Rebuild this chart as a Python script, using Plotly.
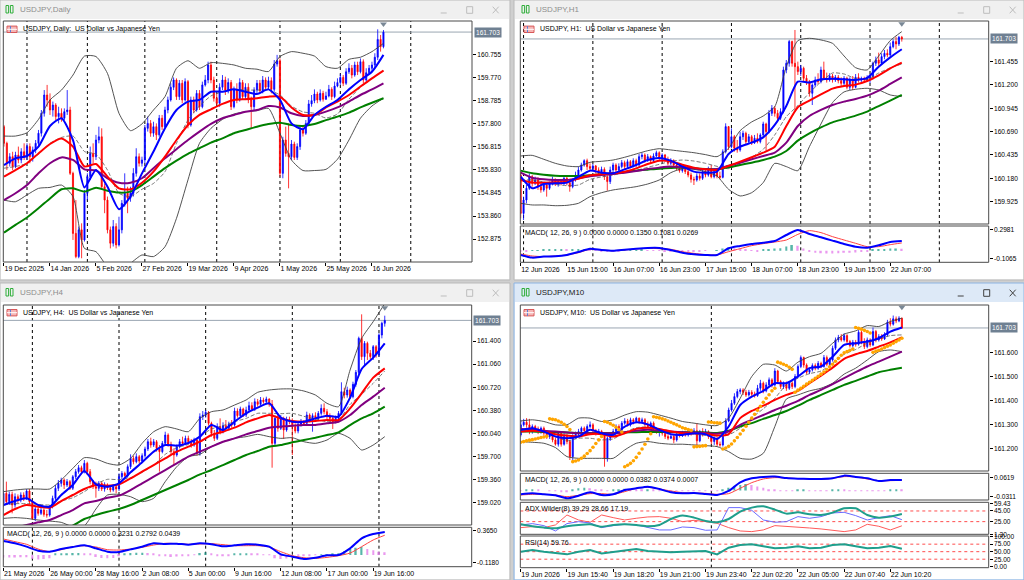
import plotly.graph_objects as go

W, H = 1024, 580
FONT = "Liberation Sans"

bars = list(range(133))
ma_bars = list(range(0, 133, 4))
hist_bars = list(range(0, 133, 2))
date_bars = [0, 16, 32, 48, 64, 80, 96, 112, 128]
bid = 161.703

# ---------------- Daily ----------------
d_dates = ["19 Dec 2025", "14 Jan 2026", "5 Feb 2026", "27 Feb 2026", "19 Mar 2026",
           "9 Apr 2026", "1 May 2026", "25 May 2026", "16 Jun 2026"]
d_seps = [8, 29, 49, 74, 96, 117, 141.5]
d_yticks = [160.755, 159.770, 158.785, 157.800, 156.815, 155.830, 154.845, 153.860, 152.875]

d_open = [157.67, 156.96, 156.11, 156.39, 155.97, 156.46, 156.25, 156.60, 156.39, 156.82,
          156.39, 156.68, 156.96, 157.39, 158.24, 159.02, 158.81, 158.38, 158.59, 158.10,
          158.24, 158.03, 158.31, 158.38, 155.68, 153.12, 152.13, 153.27, 152.84, 154.83,
          155.54, 156.53, 156.39, 157.10, 157.24, 155.11, 154.54, 153.27, 152.70, 153.41,
          152.63, 153.27, 154.40, 154.83, 154.62, 154.83, 155.68, 156.39, 156.11, 156.25,
          157.60, 157.81, 157.39, 157.67, 157.32, 158.03, 157.67, 158.38, 158.81, 159.35,
          159.66, 158.95, 159.52, 158.81, 159.59, 157.74, 158.81, 158.38, 159.09, 158.52,
          159.45, 159.66, 160.30, 159.66, 158.88, 158.67, 159.35, 159.66, 159.23, 159.55,
          158.52, 159.23, 158.81, 159.55, 158.95, 159.35, 158.81, 158.52, 159.23, 159.52,
          159.20, 159.66, 159.35, 159.63, 159.26, 160.34, 160.48, 155.68, 157.10, 156.53,
          156.39, 156.93, 156.36, 156.82, 157.53, 157.39, 157.81, 158.64, 158.78, 159.06,
          158.81, 159.09, 158.84, 158.98, 159.26, 158.95, 159.40, 159.55, 159.77, 159.52,
          160.01, 160.16, 159.87, 160.30, 160.01, 160.44, 159.66, 159.97, 160.16, 160.30,
          160.63, 161.39, 161.08]
d_high = [157.74, 157.03, 156.54, 156.60, 156.60, 156.82, 156.75, 156.96, 156.96, 156.96,
          156.82, 157.10, 157.53, 158.38, 159.23, 159.45, 159.09, 158.74, 158.67, 158.52,
          158.45, 158.45, 159.23, 158.52, 155.75, 154.54, 153.41, 153.55, 154.97, 155.68,
          156.82, 156.96, 157.32, 157.67, 157.60, 155.25, 154.69, 153.41, 153.69, 153.55,
          153.83, 154.54, 155.68, 155.11, 155.11, 155.90, 156.75, 156.53, 156.39, 157.74,
          158.10, 157.95, 157.88, 157.81, 158.17, 158.17, 158.52, 158.95, 159.52, 159.77,
          159.73, 159.66, 159.66, 159.73, 159.66, 158.95, 158.95, 159.23, 159.23, 159.59,
          159.87, 160.44, 160.44, 159.80, 159.09, 159.52, 159.87, 159.80, 159.73, 159.66,
          159.38, 159.52, 159.73, 159.66, 159.52, 159.52, 158.95, 159.35, 159.66, 159.66,
          159.83, 159.77, 159.80, 159.77, 160.51, 160.73, 160.58, 157.24, 157.67, 157.81,
          157.10, 157.03, 156.96, 157.67, 157.74, 157.95, 158.81, 159.02, 159.26, 159.16,
          159.26, 159.20, 159.16, 159.45, 159.35, 159.59, 159.73, 159.92, 159.87, 160.16,
          160.37, 160.30, 160.44, 160.44, 160.58, 160.54, 160.16, 160.30, 160.44, 160.80,
          161.82, 161.58, 161.79]
d_low = [156.82, 155.82, 155.97, 155.82, 155.90, 156.11, 156.11, 156.25, 156.25, 156.11,
         156.18, 156.54, 156.82, 157.25, 158.10, 158.52, 158.17, 158.10, 157.95, 157.81,
         157.88, 157.95, 158.17, 155.61, 152.84, 152.06, 152.06, 152.06, 152.77, 154.54,
         155.40, 156.11, 156.25, 156.96, 155.04, 153.98, 153.12, 152.48, 152.56, 152.48,
         152.56, 153.12, 154.26, 153.98, 154.47, 154.69, 155.54, 155.97, 155.97, 156.11,
         157.46, 157.24, 157.24, 157.10, 157.24, 157.53, 157.60, 158.24, 158.74, 159.23,
         158.81, 158.81, 158.67, 158.74, 157.60, 157.67, 158.24, 158.31, 158.38, 158.45,
         159.38, 159.52, 159.52, 158.74, 158.60, 158.52, 159.23, 159.02, 159.09, 158.38,
         158.45, 158.67, 158.74, 158.81, 158.81, 158.67, 157.60, 158.38, 159.09, 159.09,
         159.09, 159.23, 159.23, 159.09, 159.16, 160.23, 155.54, 155.47, 156.39, 155.04,
         156.25, 156.25, 156.25, 156.68, 157.25, 157.32, 157.74, 158.52, 158.67, 158.67,
         158.74, 158.74, 158.81, 158.92, 158.81, 158.88, 159.35, 159.45, 159.40, 159.45,
         159.92, 159.73, 159.80, 159.87, 159.94, 159.52, 159.59, 159.92, 160.01, 160.16,
         160.51, 160.87, 161.01]
d_close = [156.96, 156.11, 156.39, 155.97, 156.46, 156.25, 156.60, 156.39, 156.82, 156.39,
           156.68, 156.96, 157.39, 158.24, 159.02, 158.81, 158.38, 158.59, 158.10, 158.24,
           158.03, 158.31, 158.38, 155.68, 153.12, 152.13, 153.27, 152.84, 154.83, 155.54,
           156.53, 156.39, 157.10, 157.24, 155.11, 154.54, 153.27, 152.70, 153.41, 152.63,
           153.27, 154.40, 154.83, 154.62, 154.83, 155.68, 156.39, 156.11, 156.25, 157.60,
           157.81, 157.39, 157.67, 157.32, 158.03, 157.67, 158.38, 158.81, 159.35, 159.66,
           158.95, 159.52, 158.81, 159.59, 157.74, 158.81, 158.38, 159.09, 158.52, 159.45,
           159.66, 160.30, 159.66, 158.88, 158.67, 159.35, 159.66, 159.23, 159.55, 158.52,
           159.23, 158.81, 159.55, 158.95, 159.35, 158.81, 158.52, 159.23, 159.52, 159.20,
           159.66, 159.35, 159.63, 159.26, 160.34, 160.48, 155.68, 157.10, 156.53, 156.39,
           156.93, 156.36, 156.82, 157.53, 157.39, 157.81, 158.64, 158.78, 159.06, 158.81,
           159.09, 158.84, 158.98, 159.26, 158.95, 159.40, 159.55, 159.77, 159.52, 160.01,
           160.16, 159.87, 160.30, 160.01, 160.44, 159.66, 159.97, 160.16, 160.30, 160.63,
           161.39, 161.08, 161.70]

d_blue = [156.03, 156.32, 156.42, 156.82, 157.70, 158.03, 157.10, 155.08, 155.82, 155.11,
          154.15, 154.69, 155.68, 156.61, 157.60, 158.38, 158.74, 158.81, 159.16, 159.16,
          159.26, 159.16, 159.06, 159.26, 158.81, 157.81, 157.56, 158.17, 158.52, 158.81,
          159.26, 159.66, 160.01, 160.73]
d_red = [155.54, 155.82, 156.11, 156.53, 156.93, 157.17, 156.82, 155.97, 156.08, 155.54,
         155.04, 155.00, 155.28, 155.75, 156.39, 157.10, 157.74, 158.17, 158.41, 158.64,
         158.81, 158.84, 158.88, 158.95, 158.95, 158.49, 158.17, 158.17, 158.49, 158.74,
         159.02, 159.38, 159.73, 160.06]
d_purple = [154.54, 154.83, 155.18, 155.68, 156.11, 156.36, 156.25, 155.85, 155.80, 155.47,
            155.28, 155.28, 155.47, 155.90, 156.32, 156.71, 157.10, 157.46, 157.79, 158.03,
            158.17, 158.31, 158.38, 158.55, 158.49, 158.24, 158.13, 158.17, 158.31, 158.49,
            158.74, 159.02, 159.26, 159.52]
d_green = [153.15, 153.48, 153.80, 154.19, 154.61, 155.00, 155.04, 154.90, 155.07, 154.94,
           154.86, 154.90, 155.18, 155.54, 155.90, 156.22, 156.51, 156.75, 156.99, 157.17,
           157.39, 157.53, 157.67, 157.78, 157.84, 157.74, 157.70, 157.78, 157.95, 158.10,
           158.27, 158.49, 158.69, 158.88]
d_bb_up = [157.27, 157.27, 157.41, 157.98, 158.81, 159.23, 159.87, 160.68, 160.66, 159.94,
           158.24, 157.50, 157.79, 158.38, 158.95, 160.16, 160.48, 160.16, 160.40, 160.37,
           160.30, 160.16, 160.12, 160.02, 160.66, 160.87, 160.80, 160.68, 160.23, 160.16,
           160.54, 160.63, 160.87, 161.22]
d_bb_mid = [155.90, 155.97, 156.11, 156.50, 156.96, 157.21, 157.27, 156.61, 156.50, 155.82,
            154.83, 154.69, 155.00, 155.25, 155.75, 156.96, 157.95, 158.55, 158.98, 159.16,
            159.26, 159.23, 159.23, 159.23, 159.02, 158.55, 158.30, 158.24, 158.04, 158.21,
            158.84, 159.35, 159.72, 160.06]
d_bb_low = [154.54, 154.47, 154.76, 155.04, 155.08, 155.18, 154.69, 152.48, 152.34, 151.70,
            151.42, 151.84, 152.20, 152.13, 152.55, 153.76, 155.40, 156.96, 157.60, 157.98,
            158.21, 158.31, 158.35, 158.45, 157.39, 156.25, 155.80, 155.80, 155.85, 156.28,
            157.10, 158.03, 158.55, 158.88]

# ---------------- H1 ----------------
h1_dates = ["12 Jun 2026", "15 Jun 15:00", "16 Jun 07:00", "16 Jun 23:00", "17 Jun 15:00",
            "18 Jun 07:00", "18 Jun 23:00", "19 Jun 15:00", "22 Jun 07:00"]
h1_seps = [1, 25, 49, 73, 97, 121, 145]
h1_yticks = [161.455, 161.200, 160.945, 160.690, 160.435, 160.180, 159.925]
h1_macd_ticks = [0.2981, -0.1065]

h1_open = [160.216, 159.797, 159.943, 160.071, 160.198, 160.125, 160.162, 160.089, 160.053, 160.107,
           160.071, 160.125, 160.162, 160.118, 160.144, 160.125, 160.180, 160.133, 160.089, 160.162,
           160.216, 160.271, 160.326, 160.373, 160.308, 160.289, 160.315, 160.271, 160.235, 160.278,
           160.198, 160.144, 160.271, 160.326, 160.271, 160.308, 160.351, 160.308, 160.362, 160.315,
           160.373, 160.326, 160.417, 160.435, 160.380, 160.417, 160.373, 160.424, 160.460, 160.399,
           160.435, 160.388, 160.344, 160.373, 160.326, 160.289, 160.264, 160.308, 160.253, 160.216,
           160.169, 160.162, 160.205, 160.180, 160.253, 160.216, 160.278, 160.198, 160.253, 160.205,
           160.191, 160.471, 160.745, 160.526, 160.635, 160.508, 160.490, 160.635, 160.672, 160.581,
           160.635, 160.570, 160.617, 160.581, 160.654, 160.774, 160.690, 160.890, 160.945, 160.890,
           160.836, 160.909, 161.364, 161.437, 161.674, 161.437, 161.400, 161.346, 161.382, 161.273,
           161.236, 161.109, 161.200, 161.255, 161.236, 161.364, 161.273, 161.255, 161.298, 161.255,
           161.284, 161.247, 161.218, 161.273, 161.175, 161.255, 161.175, 161.284, 161.255, 161.269,
           161.255, 161.284, 161.291, 161.437, 161.473, 161.437, 161.510, 161.546, 161.528, 161.619,
           161.674, 161.648, 161.721]
h1_high = [160.253, 159.980, 160.107, 160.235, 160.216, 160.198, 160.191, 160.125, 160.144, 160.125,
           160.144, 160.198, 160.180, 160.169, 160.169, 160.205, 160.198, 160.162, 160.180, 160.253,
           160.308, 160.351, 160.388, 160.395, 160.344, 160.337, 160.326, 160.300, 160.308, 160.300,
           160.235, 160.308, 160.351, 160.344, 160.344, 160.380, 160.373, 160.388, 160.380, 160.399,
           160.395, 160.446, 160.460, 160.453, 160.446, 160.431, 160.453, 160.482, 160.475, 160.453,
           160.446, 160.417, 160.399, 160.388, 160.344, 160.315, 160.326, 160.326, 160.278, 160.242,
           160.198, 160.235, 160.235, 160.278, 160.289, 160.308, 160.326, 160.289, 160.278, 160.253,
           160.497, 160.781, 160.752, 160.726, 160.654, 160.599, 160.690, 160.701, 160.690, 160.665,
           160.654, 160.654, 160.672, 160.672, 160.799, 160.788, 160.927, 160.981, 160.970, 160.927,
           160.945, 161.400, 161.473, 161.692, 161.685, 161.801, 161.455, 161.419, 161.400, 161.309,
           161.255, 161.218, 161.291, 161.328, 161.400, 161.455, 161.335, 161.328, 161.320, 161.309,
           161.309, 161.284, 161.298, 161.291, 161.284, 161.298, 161.320, 161.328, 161.291, 161.291,
           161.306, 161.320, 161.455, 161.510, 161.553, 161.546, 161.583, 161.590, 161.663, 161.699,
           161.728, 161.736, 161.736]
h1_low = [159.743, 159.725, 159.907, 160.053, 160.089, 160.107, 160.053, 160.023, 160.034, 159.980,
          160.053, 160.103, 160.096, 160.089, 160.103, 160.107, 160.103, 160.034, 160.071, 160.144,
          160.198, 160.253, 160.308, 160.271, 160.264, 160.264, 160.235, 160.205, 160.216, 160.162,
          160.045, 160.118, 160.242, 160.235, 160.242, 160.289, 160.278, 160.289, 160.289, 160.300,
          160.300, 160.308, 160.388, 160.351, 160.359, 160.344, 160.351, 160.410, 160.373, 160.380,
          160.362, 160.322, 160.326, 160.300, 160.264, 160.242, 160.242, 160.227, 160.191, 160.133,
          160.107, 160.144, 160.155, 160.162, 160.191, 160.198, 160.180, 160.180, 160.180, 160.169,
          160.180, 160.453, 160.490, 160.508, 160.471, 160.460, 160.471, 160.599, 160.555, 160.555,
          160.544, 160.555, 160.562, 160.562, 160.628, 160.482, 160.672, 160.861, 160.854, 160.810,
          160.818, 160.890, 161.328, 161.400, 161.400, 160.927, 161.309, 161.298, 161.236, 161.200,
          161.073, 160.981, 161.175, 161.211, 161.218, 161.255, 161.226, 161.236, 161.226, 161.233,
          161.218, 161.189, 161.196, 161.153, 161.145, 161.145, 161.164, 161.226, 161.233, 161.226,
          161.233, 161.218, 161.262, 161.408, 161.408, 161.419, 161.481, 161.502, 161.510, 161.601,
          161.590, 161.626, 161.674]
h1_close = [159.797, 159.943, 160.071, 160.198, 160.125, 160.162, 160.089, 160.053, 160.107, 160.071,
            160.125, 160.162, 160.118, 160.144, 160.125, 160.180, 160.133, 160.089, 160.162, 160.216,
            160.271, 160.326, 160.373, 160.308, 160.289, 160.315, 160.271, 160.235, 160.278, 160.198,
            160.144, 160.271, 160.326, 160.271, 160.308, 160.351, 160.308, 160.362, 160.315, 160.373,
            160.326, 160.417, 160.435, 160.380, 160.417, 160.373, 160.424, 160.460, 160.399, 160.435,
            160.388, 160.344, 160.373, 160.326, 160.289, 160.264, 160.308, 160.253, 160.216, 160.169,
            160.162, 160.205, 160.180, 160.253, 160.216, 160.278, 160.198, 160.253, 160.205, 160.191,
            160.471, 160.745, 160.526, 160.635, 160.508, 160.490, 160.635, 160.672, 160.581, 160.635,
            160.570, 160.617, 160.581, 160.654, 160.774, 160.690, 160.890, 160.945, 160.890, 160.836,
            160.909, 161.364, 161.437, 161.674, 161.437, 161.400, 161.346, 161.382, 161.273, 161.236,
            161.109, 161.200, 161.255, 161.236, 161.364, 161.273, 161.255, 161.298, 161.255, 161.284,
            161.247, 161.218, 161.273, 161.175, 161.255, 161.175, 161.284, 161.255, 161.269, 161.255,
            161.284, 161.291, 161.437, 161.473, 161.437, 161.510, 161.546, 161.528, 161.619, 161.674,
            161.648, 161.721, 161.703]

h1_blue = [160.198, 160.071, 160.118, 160.125, 160.133, 160.198, 160.264, 160.242, 160.235, 160.278,
           160.326, 160.380, 160.402, 160.373, 160.308, 160.253, 160.242, 160.253, 160.446, 160.526,
           160.570, 160.628, 160.763, 160.970, 161.236, 161.226, 161.262, 161.269, 161.262, 161.255,
           161.277, 161.400, 161.502, 161.590]
h1_red = [160.162, 160.133, 160.133, 160.136, 160.144, 160.176, 160.213, 160.224, 160.235, 160.253,
          160.289, 160.337, 160.373, 160.366, 160.329, 160.297, 160.278, 160.271, 160.315, 160.362,
          160.410, 160.460, 160.526, 160.752, 160.956, 161.029, 161.098, 161.160, 161.189, 161.204,
          161.244, 161.306, 161.382, 161.444]
h1_purple = [160.242, 160.187, 160.169, 160.162, 160.162, 160.180, 160.202, 160.216, 160.227, 160.242,
             160.260, 160.282, 160.297, 160.308, 160.300, 160.289, 160.278, 160.282, 160.318, 160.351,
             160.388, 160.424, 160.460, 160.570, 160.752, 160.861, 160.927, 160.981, 161.018, 161.047,
             161.083, 161.138, 161.211, 161.284]
h1_green = [160.264, 160.235, 160.220, 160.209, 160.205, 160.205, 160.213, 160.224, 160.235, 160.249,
            160.264, 160.275, 160.286, 160.293, 160.297, 160.289, 160.282, 160.278, 160.300, 160.326,
            160.351, 160.380, 160.417, 160.479, 160.592, 160.672, 160.737, 160.792, 160.828, 160.865,
            160.909, 160.970, 161.029, 161.091]
h1_bb_up = [160.424, 160.431, 160.388, 160.344, 160.315, 160.308, 160.355, 160.366, 160.380, 160.410,
            160.446, 160.482, 160.504, 160.490, 160.475, 160.460, 160.439, 160.417, 160.508, 160.701,
            160.796, 160.861, 160.963, 161.400, 161.685, 161.710, 161.692, 161.655, 161.517, 161.389,
            161.364, 161.517, 161.685, 161.783]
h1_bb_mid = [160.162, 160.162, 160.140, 160.114, 160.100, 160.107, 160.169, 160.195, 160.216, 160.242,
             160.267, 160.300, 160.333, 160.366, 160.380, 160.369, 160.344, 160.311, 160.286, 160.344,
             160.410, 160.497, 160.654, 160.854, 160.974, 161.116, 161.233, 161.331, 161.320, 161.269,
             161.262, 161.331, 161.386, 161.430]
h1_bb_low = [159.907, 159.889, 159.889, 159.881, 159.885, 159.907, 159.980, 160.023, 160.053, 160.071,
             160.089, 160.118, 160.162, 160.242, 160.286, 160.278, 160.253, 160.205, 160.060, 159.987,
             160.023, 160.133, 160.344, 160.308, 160.264, 160.526, 160.774, 161.007, 161.124, 161.153,
             161.164, 161.145, 161.091, 161.073]

h1_macd = [-0.060, -0.097, -0.083, -0.079, -0.060, -0.018, 0.028, 0.010, 0.000, 0.014,
           0.028, 0.038, 0.038, 0.010, -0.028, -0.051, -0.060, -0.060, 0.033, 0.066,
           0.094, 0.112, 0.135, 0.219, 0.289, 0.233, 0.187, 0.140, 0.094, 0.056,
           0.042, 0.075, 0.121, 0.135]
h1_signal = [-0.046, -0.074, -0.083, -0.074, -0.060, -0.028, 0.019, 0.010, 0.000, 0.010,
             0.024, 0.033, 0.028, 0.019, -0.014, -0.037, -0.055, -0.060, -0.014, 0.028,
             0.070, 0.098, 0.121, 0.149, 0.228, 0.280, 0.252, 0.196, 0.149, 0.103,
             0.056, 0.056, 0.084, 0.108]
h1_hist = [-0.01, -0.005, 0.005, 0.008, 0.01, 0.01, 0.012, 0.012, 0.01, 0.012,
           0.015, 0.018, 0.012, 0.005, -0.008, -0.012, -0.01, -0.006, 0.004, 0.006,
           0.008, 0.01, 0.008, 0.004, -0.004, -0.01, -0.015, -0.018, -0.016, -0.012,
           -0.008, -0.005, -0.003, 0.0, 0.005, 0.03, 0.04, 0.035, 0.025, 0.015,
           0.005, -0.005, 0.01, 0.02, 0.03, 0.035, 0.06, 0.08, 0.07, 0.03,
           -0.01, -0.03, -0.035, -0.04, -0.038, -0.035, -0.03, -0.028, -0.025, -0.02,
           -0.01, 0.01, 0.02, 0.025, 0.03, 0.03, 0.027]

# ---------------- H4 ----------------
h4_dates = ["21 May 2026", "26 May 00:00", "28 May 16:00", "2 Jun 08:00", "5 Jun 00:00",
            "9 Jun 16:00", "12 Jun 08:00", "17 Jun 00:00", "19 Jun 16:00"]
h4_seps = [10, 40, 70, 100, 130]
h4_yticks = [161.400, 161.060, 160.720, 160.380, 160.040, 159.700, 159.360, 159.020]
h4_macd_ticks = [0.3650, -0.1180]

h4_open = [159.014, 159.161, 159.039, 159.146, 158.990, 159.112, 159.063, 159.137, 159.088, 159.195,
           159.039, 158.793, 158.931, 158.867, 158.916, 158.852, 158.842, 158.965, 159.088, 159.235,
           159.308, 159.357, 159.284, 159.333, 159.235, 159.406, 159.480, 159.538, 159.480, 159.602,
           159.480, 159.333, 159.259, 159.235, 159.308, 159.225, 159.284, 159.244, 159.210, 159.259,
           159.225, 159.406, 159.455, 159.421, 159.553, 159.675, 159.626, 159.700, 159.636, 159.715,
           159.813, 159.920, 159.871, 159.920, 159.822, 159.774, 159.896, 160.018, 159.881, 159.774,
           159.725, 159.847, 159.920, 159.896, 159.969, 159.920, 159.871, 159.945, 159.749, 160.288,
           160.312, 160.352, 160.190, 160.043, 159.969, 160.141, 160.067, 160.156, 160.116, 160.175,
           160.165, 160.371, 160.303, 160.401, 160.312, 160.386, 160.450, 160.401, 160.508, 160.469,
           160.533, 160.508, 160.548, 160.469, 159.896, 160.263, 160.116, 160.263, 160.092, 160.239,
           160.214, 160.141, 160.077, 160.175, 160.205, 160.190, 160.312, 160.239, 160.303, 160.263,
           160.337, 160.410, 160.361, 160.288, 160.263, 160.214, 160.263, 160.337, 160.655, 160.606,
           160.680, 160.582, 160.763, 160.939, 161.439, 161.170, 161.366, 161.219, 161.170, 161.317,
           161.194, 161.488, 161.660]
h4_high = [159.210, 159.333, 159.186, 159.186, 159.161, 159.146, 159.176, 159.176, 159.225, 159.225,
           159.063, 158.965, 158.951, 158.951, 158.941, 158.916, 158.990, 159.127, 159.284, 159.357,
           159.391, 159.382, 159.372, 159.357, 159.431, 159.519, 159.577, 159.568, 159.651, 159.626,
           159.519, 159.357, 159.333, 159.342, 159.333, 159.323, 159.308, 159.284, 159.293, 159.284,
           159.455, 159.489, 159.480, 159.587, 159.734, 159.715, 159.749, 159.725, 159.749, 159.847,
           159.960, 159.979, 159.960, 159.945, 159.871, 159.930, 160.067, 160.043, 159.920, 159.822,
           159.881, 159.960, 159.994, 160.009, 160.009, 159.960, 159.979, 159.969, 160.337, 160.371,
           160.386, 160.371, 160.214, 160.092, 160.190, 160.263, 160.205, 160.239, 160.214, 160.239,
           160.420, 160.410, 160.435, 160.420, 160.435, 160.508, 160.499, 160.557, 160.548, 160.577,
           160.567, 160.582, 160.557, 160.533, 160.303, 160.337, 160.312, 160.288, 160.288, 160.288,
           160.263, 160.190, 160.214, 160.254, 160.239, 160.361, 160.337, 160.337, 160.352, 160.371,
           160.469, 160.484, 160.401, 160.337, 160.303, 160.303, 160.371, 160.793, 160.714, 160.729,
           160.704, 160.802, 160.974, 161.464, 161.792, 161.400, 161.390, 161.268, 161.341, 161.341,
           161.513, 161.684, 161.772]
h4_low = [158.965, 158.990, 158.990, 158.867, 158.951, 159.014, 159.029, 159.048, 159.063, 158.999,
          158.769, 158.754, 158.833, 158.842, 158.818, 158.804, 158.818, 158.941, 159.063, 159.195,
          159.259, 159.225, 159.254, 159.210, 159.210, 159.372, 159.450, 159.440, 159.455, 159.431,
          159.293, 159.225, 159.097, 159.195, 159.195, 159.186, 159.210, 159.176, 159.186, 159.161,
          159.195, 159.372, 159.382, 159.391, 159.519, 159.587, 159.602, 159.602, 159.617, 159.685,
          159.783, 159.832, 159.842, 159.774, 159.480, 159.749, 159.871, 159.847, 159.734, 159.577,
          159.700, 159.822, 159.862, 159.871, 159.891, 159.832, 159.847, 159.715, 159.715, 160.239,
          160.273, 160.156, 159.994, 159.930, 159.945, 160.028, 160.043, 160.077, 160.087, 160.126,
          160.141, 160.273, 160.273, 160.283, 160.283, 160.361, 160.371, 160.371, 160.435, 160.450,
          160.479, 160.484, 160.435, 159.538, 159.871, 160.067, 160.092, 159.960, 160.067, 160.175,
          159.725, 160.043, 160.043, 160.141, 160.165, 160.165, 160.205, 160.067, 160.239, 160.239,
          160.303, 160.322, 160.254, 160.224, 160.107, 160.190, 160.205, 160.312, 160.557, 160.567,
          160.548, 160.557, 160.729, 160.910, 161.121, 161.047, 161.121, 161.135, 161.121, 161.155,
          161.170, 161.439, 161.611]
h4_close = [159.161, 159.039, 159.146, 158.990, 159.112, 159.063, 159.137, 159.088, 159.195, 159.039,
            158.793, 158.931, 158.867, 158.916, 158.852, 158.842, 158.965, 159.088, 159.235, 159.308,
            159.357, 159.284, 159.333, 159.235, 159.406, 159.480, 159.538, 159.480, 159.602, 159.480,
            159.333, 159.259, 159.235, 159.308, 159.225, 159.284, 159.244, 159.210, 159.259, 159.225,
            159.406, 159.455, 159.421, 159.553, 159.675, 159.626, 159.700, 159.636, 159.715, 159.813,
            159.920, 159.871, 159.920, 159.822, 159.774, 159.896, 160.018, 159.881, 159.774, 159.725,
            159.847, 159.920, 159.896, 159.969, 159.920, 159.871, 159.945, 159.749, 160.288, 160.312,
            160.352, 160.190, 160.043, 159.969, 160.141, 160.067, 160.156, 160.116, 160.175, 160.165,
            160.371, 160.303, 160.401, 160.312, 160.386, 160.450, 160.401, 160.508, 160.469, 160.533,
            160.508, 160.548, 160.469, 159.896, 160.263, 160.116, 160.263, 160.092, 160.239, 160.214,
            160.141, 160.077, 160.175, 160.205, 160.190, 160.312, 160.239, 160.303, 160.263, 160.337,
            160.410, 160.361, 160.288, 160.263, 160.214, 160.263, 160.337, 160.655, 160.606, 160.680,
            160.582, 160.763, 160.939, 161.439, 161.170, 161.366, 161.219, 161.170, 161.317, 161.194,
            161.488, 161.660, 161.703]

h4_blue = [158.990, 159.048, 159.088, 158.990, 158.965, 159.137, 159.284, 159.489, 159.293, 159.259,
           159.308, 159.470, 159.617, 159.774, 159.871, 159.862, 159.901, 159.994, 160.165, 160.092,
           160.214, 160.337, 160.420, 160.484, 160.273, 160.214, 160.214, 160.263, 160.303, 160.288,
           160.567, 160.988, 161.155, 161.366]
h4_red = [158.842, 158.931, 158.990, 158.965, 158.951, 159.048, 159.137, 159.225, 159.284, 159.274,
          159.293, 159.382, 159.480, 159.577, 159.675, 159.774, 159.847, 159.920, 160.018, 160.067,
          160.126, 160.205, 160.263, 160.312, 160.263, 160.224, 160.214, 160.224, 160.239, 160.239,
          160.410, 160.631, 160.861, 160.998]
h4_purple = [158.622, 158.657, 158.696, 158.735, 158.769, 158.842, 158.916, 159.014, 159.048, 159.097,
             159.127, 159.210, 159.308, 159.406, 159.504, 159.602, 159.700, 159.774, 159.847, 159.920,
             159.969, 160.028, 160.077, 160.126, 160.141, 160.156, 160.165, 160.165, 160.190, 160.214,
             160.312, 160.459, 160.582, 160.714]
h4_green = [158.353, 158.402, 158.451, 158.500, 158.549, 158.608, 158.686, 158.784, 158.842, 158.891,
            158.931, 158.990, 159.063, 159.137, 159.210, 159.284, 159.357, 159.440, 159.504, 159.577,
            159.651, 159.725, 159.783, 159.847, 159.871, 159.911, 159.945, 159.979, 160.018, 160.058,
            160.165, 160.263, 160.337, 160.435]
h4_bb_up = [159.186, 159.210, 159.225, 159.225, 159.225, 159.357, 159.529, 159.685, 159.666, 159.602,
            159.577, 159.675, 159.896, 160.067, 160.141, 160.107, 160.067, 160.263, 160.361, 160.386,
            160.459, 160.533, 160.646, 160.680, 160.695, 160.695, 160.665, 160.606, 160.484, 160.435,
            160.974, 161.439, 161.684, 161.950]
h4_bb_mid = [158.990, 159.009, 159.009, 158.999, 158.990, 159.048, 159.097, 159.186, 159.298, 159.367,
             159.362, 159.391, 159.470, 159.577, 159.734, 159.832, 159.881, 159.999, 160.107, 160.156,
             160.214, 160.263, 160.337, 160.337, 160.332, 160.337, 160.293, 160.254, 160.214, 160.239,
             160.469, 160.616, 160.778, 160.959]
h4_bb_low = [158.793, 158.804, 158.793, 158.769, 158.754, 158.735, 158.671, 158.686, 158.931, 159.137,
             159.146, 159.112, 159.039, 159.088, 159.333, 159.553, 159.700, 159.734, 159.847, 159.920,
             159.969, 159.994, 160.028, 159.994, 159.969, 159.979, 159.920, 159.896, 159.945, 160.043,
             159.969, 159.798, 159.871, 159.994]

h4_macd = [0.212, 0.177, 0.126, 0.065, 0.050, 0.090, 0.121, 0.146, 0.101, 0.050,
           0.045, 0.085, 0.126, 0.177, 0.167, 0.172, 0.157, 0.177, 0.162, 0.131,
           0.146, 0.162, 0.157, 0.126, 0.009, -0.026, -0.062, -0.042, -0.006, -0.001,
           0.101, 0.253, 0.319, 0.350]
h4_signal = [0.243, 0.202, 0.162, 0.090, 0.050, 0.080, 0.126, 0.141, 0.121, 0.080,
             0.075, 0.090, 0.116, 0.151, 0.177, 0.172, 0.162, 0.167, 0.172, 0.157,
             0.141, 0.141, 0.141, 0.121, 0.050, -0.011, -0.042, -0.052, -0.037, -0.011,
             0.029, 0.126, 0.228, 0.300]
h4_hist = [-0.04, -0.04, -0.04, -0.035, -0.035, -0.06, -0.07, -0.06, -0.05, 0.01,
           0.02, 0.025, 0.03, 0.03, 0.025, 0.01, -0.03, -0.045, -0.05, -0.045,
           -0.02, 0.02, 0.03, 0.035, 0.035, 0.03, 0.02, -0.01, -0.02, -0.03,
           -0.025, -0.02, -0.01, -0.005, 0.03, 0.04, 0.02, -0.01, -0.015, -0.01,
           0.01, 0.015, 0.015, 0.012, 0.01, 0.005, -0.005, -0.05, -0.06, -0.055,
           -0.04, -0.03, -0.02, -0.01, -0.005, 0.005, 0.005, 0.01, 0.02, 0.06,
           0.09, 0.11, 0.12, 0.09, 0.07, 0.05, 0.04]

# ---------------- M10 ----------------
m10_dates = ["19 Jun 2026", "19 Jun 15:40", "19 Jun 18:20", "19 Jun 21:00", "19 Jun 23:40",
             "22 Jun 02:20", "22 Jun 05:00", "22 Jun 07:40", "22 Jun 10:20"]
m10_seps = [66]
m10_yticks = [161.600, 161.500, 161.400, 161.300, 161.200]
m10_macd_ticks = [0.0619, -0.0311]
adx_ticks = [59.43, 45.00, 25.00, 1.30]
adx_levels = [45, 25]
rsi_ticks = [100, 75, 50, 25, 0]
rsi_levels = [75, 50, 25]

m10_open = [161.256, 161.298, 161.309, 161.298, 161.270, 161.291, 161.281, 161.270, 161.284, 161.263,
            161.249, 161.263, 161.235, 161.217, 161.263, 161.217, 161.249, 161.228, 161.165, 161.249,
            161.259, 161.270, 161.284, 161.273, 161.291, 161.298, 161.273, 161.263, 161.270, 161.256,
            161.158, 161.242, 161.256, 161.270, 161.291, 161.277, 161.305, 161.314, 161.298, 161.319,
            161.312, 161.326, 161.312, 161.319, 161.300, 161.291, 161.305, 161.281, 161.270, 161.273,
            161.263, 161.249, 161.242, 161.249, 161.235, 161.259, 161.253, 161.263, 161.256, 161.270,
            161.263, 161.273, 161.231, 161.270, 161.259, 161.270, 161.249, 161.228, 161.239, 161.217,
            161.214, 161.263, 161.314, 161.360, 161.388, 161.416, 161.437, 161.444, 161.434, 161.423,
            161.434, 161.426, 161.420, 161.451, 161.472, 161.440, 161.465, 161.486, 161.465, 161.523,
            161.479, 161.458, 161.468, 161.451, 161.472, 161.458, 161.500, 161.542, 161.579, 161.548,
            161.518, 161.528, 161.546, 161.535, 161.555, 161.542, 161.579, 161.551, 161.569, 161.618,
            161.653, 161.663, 161.653, 161.671, 161.646, 161.629, 161.643, 161.635, 161.685, 161.646,
            161.625, 161.653, 161.632, 161.688, 161.653, 161.667, 161.657, 161.674, 161.727, 161.719,
            161.741, 161.732, 161.744]
m10_high = [161.319, 161.323, 161.326, 161.323, 161.300, 161.298, 161.291, 161.291, 161.291, 161.273,
            161.273, 161.270, 161.245, 161.270, 161.270, 161.263, 161.259, 161.235, 161.259, 161.270,
            161.281, 161.291, 161.291, 161.300, 161.312, 161.305, 161.281, 161.281, 161.277, 161.263,
            161.249, 161.267, 161.281, 161.300, 161.300, 161.314, 161.326, 161.323, 161.328, 161.326,
            161.332, 161.328, 161.328, 161.326, 161.312, 161.312, 161.312, 161.286, 161.284, 161.281,
            161.270, 161.259, 161.259, 161.256, 161.267, 161.267, 161.273, 161.270, 161.281, 161.277,
            161.284, 161.305, 161.277, 161.284, 161.281, 161.275, 161.259, 161.249, 161.249, 161.228,
            161.270, 161.326, 161.370, 161.402, 161.430, 161.448, 161.451, 161.451, 161.444, 161.444,
            161.443, 161.437, 161.465, 161.486, 161.479, 161.476, 161.496, 161.493, 161.535, 161.528,
            161.486, 161.479, 161.479, 161.482, 161.479, 161.510, 161.551, 161.588, 161.583, 161.555,
            161.537, 161.555, 161.555, 161.565, 161.562, 161.590, 161.588, 161.579, 161.629, 161.663,
            161.674, 161.677, 161.681, 161.677, 161.653, 161.653, 161.653, 161.695, 161.691, 161.660,
            161.663, 161.660, 161.705, 161.695, 161.677, 161.677, 161.685, 161.737, 161.744, 161.755,
            161.751, 161.752, 161.746]
m10_low = [161.249, 161.291, 161.286, 161.259, 161.261, 161.270, 161.259, 161.261, 161.253, 161.239,
           161.239, 161.225, 161.211, 161.207, 161.207, 161.211, 161.217, 161.151, 161.144, 161.239,
           161.249, 161.259, 161.263, 161.267, 161.284, 161.263, 161.253, 161.256, 161.245, 161.123,
           161.144, 161.231, 161.249, 161.261, 161.270, 161.270, 161.298, 161.291, 161.291, 161.300,
           161.305, 161.303, 161.305, 161.291, 161.284, 161.284, 161.273, 161.261, 161.249, 161.253,
           161.239, 161.234, 161.239, 161.221, 161.228, 161.245, 161.247, 161.249, 161.249, 161.253,
           161.256, 161.207, 161.225, 161.249, 161.253, 161.239, 161.217, 161.214, 161.207, 161.206,
           161.207, 161.256, 161.309, 161.353, 161.381, 161.409, 161.426, 161.423, 161.415, 161.416,
           161.418, 161.412, 161.415, 161.440, 161.430, 161.434, 161.458, 161.454, 161.458, 161.468,
           161.448, 161.448, 161.440, 161.444, 161.448, 161.451, 161.493, 161.535, 161.537, 161.510,
           161.510, 161.521, 161.526, 161.528, 161.535, 161.537, 161.543, 161.546, 161.562, 161.611,
           161.643, 161.646, 161.646, 161.635, 161.621, 161.621, 161.625, 161.629, 161.635, 161.615,
           161.618, 161.624, 161.627, 161.643, 161.646, 161.649, 161.653, 161.667, 161.709, 161.713,
           161.723, 161.727, 161.699]
m10_close = [161.298, 161.309, 161.298, 161.270, 161.291, 161.281, 161.270, 161.284, 161.263, 161.249,
             161.263, 161.235, 161.217, 161.263, 161.217, 161.249, 161.228, 161.165, 161.249, 161.259,
             161.270, 161.284, 161.273, 161.291, 161.298, 161.273, 161.263, 161.270, 161.256, 161.158,
             161.242, 161.256, 161.270, 161.291, 161.277, 161.305, 161.314, 161.298, 161.319, 161.312,
             161.326, 161.312, 161.319, 161.300, 161.291, 161.305, 161.281, 161.270, 161.273, 161.263,
             161.249, 161.242, 161.249, 161.235, 161.259, 161.253, 161.263, 161.256, 161.270, 161.263,
             161.273, 161.231, 161.270, 161.259, 161.270, 161.249, 161.228, 161.239, 161.217, 161.214,
             161.263, 161.314, 161.360, 161.388, 161.416, 161.437, 161.444, 161.434, 161.423, 161.434,
             161.426, 161.420, 161.451, 161.472, 161.440, 161.465, 161.486, 161.465, 161.523, 161.479,
             161.458, 161.468, 161.451, 161.472, 161.458, 161.500, 161.542, 161.579, 161.548, 161.518,
             161.528, 161.546, 161.535, 161.555, 161.542, 161.579, 161.551, 161.569, 161.618, 161.653,
             161.663, 161.653, 161.671, 161.646, 161.629, 161.643, 161.635, 161.685, 161.646, 161.625,
             161.653, 161.632, 161.688, 161.653, 161.667, 161.657, 161.674, 161.727, 161.719, 161.741,
             161.732, 161.744, 161.703]

m10_blue = [161.277, 161.284, 161.270, 161.249, 161.242, 161.249, 161.277, 161.263, 161.256, 161.291,
            161.309, 161.300, 161.277, 161.259, 161.256, 161.263, 161.259, 161.239, 161.291, 161.381,
            161.416, 161.440, 161.472, 161.472, 161.500, 161.535, 161.542, 161.583, 161.632, 161.639,
            161.646, 161.660, 161.688, 161.705]
m10_red = [161.270, 161.273, 161.270, 161.259, 161.253, 161.249, 161.259, 161.259, 161.249, 161.263,
           161.281, 161.286, 161.281, 161.270, 161.263, 161.263, 161.261, 161.253, 161.259, 161.326,
           161.356, 161.378, 161.402, 161.423, 161.440, 161.472, 161.504, 161.537, 161.574, 161.593,
           161.607, 161.625, 161.643, 161.663]
m10_purple = [161.281, 161.277, 161.273, 161.270, 161.266, 161.263, 161.263, 161.263, 161.263, 161.267,
              161.273, 161.277, 161.274, 161.270, 161.267, 161.266, 161.264, 161.261, 161.270, 161.298,
              161.319, 161.339, 161.360, 161.378, 161.398, 161.423, 161.444, 161.468, 161.493, 161.518,
              161.542, 161.562, 161.583, 161.604]
m10_green = [161.270, 161.270, 161.268, 161.267, 161.266, 161.264, 161.264, 161.264, 161.264, 161.266,
             161.267, 161.268, 161.268, 161.268, 161.267, 161.267, 161.266, 161.264, 161.273, 161.291,
             161.305, 161.323, 161.339, 161.356, 161.378, 161.402, 161.423, 161.444, 161.465, 161.482,
             161.500, 161.518, 161.528, 161.537]
m10_bb_up = [161.314, 161.319, 161.312, 161.298, 161.298, 161.326, 161.326, 161.312, 161.319, 161.339,
             161.353, 161.351, 161.339, 161.326, 161.312, 161.305, 161.298, 161.295, 161.326, 161.409,
             161.500, 161.551, 161.548, 161.523, 161.560, 161.583, 161.597, 161.639, 161.677, 161.691,
             161.713, 161.709, 161.730, 161.744]
m10_bb_mid = [161.270, 161.273, 161.267, 161.250, 161.231, 161.242, 161.242, 161.235, 161.239, 161.267,
              161.286, 161.289, 161.281, 161.271, 161.264, 161.259, 161.254, 161.252, 161.256, 161.284,
              161.328, 161.365, 161.409, 161.466, 161.493, 161.512, 161.523, 161.555, 161.593, 161.613,
              161.640, 161.657, 161.671, 161.674]
m10_bb_low = [161.228, 161.225, 161.221, 161.203, 161.165, 161.158, 161.158, 161.158, 161.158, 161.193,
              161.221, 161.228, 161.221, 161.217, 161.217, 161.214, 161.211, 161.207, 161.186, 161.158,
              161.155, 161.179, 161.291, 161.406, 161.423, 161.440, 161.451, 161.472, 161.510, 161.535,
              161.569, 161.604, 161.611, 161.604]
m10_sar = [161.225, 161.228, 161.231, 161.234, 161.236, 161.239, 161.242, 161.245, 161.247, 161.250,
           161.323, 161.321, 161.319, 161.314, 161.309, 161.300, 161.291, 161.278,
           161.144, 161.147, 161.151, 161.158, 161.167, 161.178, 161.190, 161.204, 161.220, 161.235, 161.249,
           161.312, 161.309, 161.303, 161.296, 161.288, 161.278, 161.268,
           161.123, 161.129, 161.137, 161.148, 161.162, 161.179, 161.197, 161.217, 161.239, 161.261,
           161.332, 161.330, 161.327, 161.323, 161.319, 161.314, 161.309, 161.303, 161.298, 161.292,
           161.286, 161.282, 161.278, 161.275,
           161.206, 161.207, 161.208, 161.210, 161.211,
           161.310, 161.309, 161.307, 161.306, 161.305,
           161.197, 161.201, 161.208, 161.218, 161.231, 161.245, 161.260, 161.275, 161.292, 161.309,
           161.326, 161.342, 161.359, 161.376, 161.392, 161.409, 161.424, 161.440, 161.451,
           161.560, 161.556, 161.551, 161.546, 161.539, 161.530,
           161.434, 161.443, 161.451, 161.459, 161.468, 161.476, 161.484, 161.493, 161.501, 161.510,
           161.519, 161.529, 161.540, 161.551, 161.564, 161.576, 161.589, 161.599, 161.604,
           161.610, 161.615,
           161.705, 161.702, 161.698, 161.693, 161.688, 161.682,
           161.601, 161.606, 161.610, 161.615, 161.621, 161.627, 161.632, 161.639, 161.646, 161.653, 161.660]

m10_macd = [-0.0185, -0.0138, -0.0185, -0.0232, -0.0374, -0.0248, -0.0090, -0.0216, -0.0185, 0.0020,
            0.0099, 0.0178, 0.0067, -0.0090, -0.0138, -0.0122, -0.0169, -0.0216, -0.0027, 0.0383,
            0.0572, 0.0635, 0.0651, 0.0587, 0.0556, 0.0540, 0.0540, 0.0572, 0.0698, 0.0635,
            0.0572, 0.0446, 0.0493, 0.0493]
m10_signal = [-0.0216, -0.0185, -0.0185, -0.0216, -0.0295, -0.0232, -0.0153, -0.0153, -0.0185, -0.0059,
              0.0099, 0.0146, 0.0067, -0.0027, -0.0106, -0.0122, -0.0138, -0.0185, -0.0153, 0.0099,
              0.0367, 0.0540, 0.0603, 0.0587, 0.0556, 0.0540, 0.0524, 0.0572, 0.0651, 0.0635,
              0.0540, 0.0461, 0.0461, 0.0477]
m10_hist = [-0.002, 0.004, 0.005, 0.003, 0.0, -0.002, -0.004, -0.005, -0.006, 0.005,
            0.01, 0.012, 0.01, 0.006, 0.002, -0.003, 0.003, 0.006, 0.008, 0.007,
            0.005, 0.003, 0.004, 0.002, -0.002, -0.004, -0.005, -0.004, -0.003, -0.002,
            -0.002, -0.001, -0.002, -0.003, -0.004, 0.004, 0.012, 0.02, 0.025, 0.03,
            0.025, 0.018, 0.012, 0.006, 0.002, -0.003, -0.004, -0.003, 0.003, 0.004,
            -0.002, -0.003, -0.004, -0.002, 0.004, 0.005, 0.003, -0.002, -0.003, -0.004,
            -0.004, -0.003, -0.003, -0.002, 0.001, 0.002, 0.001]
m10_adx = [20.0, 16.3, 13.8, 12.5, 16.3, 18.8, 20.0, 15.6, 18.8, 20.0,
           18.8, 16.3, 18.8, 30.0, 36.3, 32.5, 26.3, 23.8, 30.0, 43.8,
           51.3, 53.8, 47.5, 40.0, 42.5, 38.8, 37.5, 41.9, 50.0, 50.0,
           37.5, 32.5, 34.4, 39.29]
m10_pdi = [18.8, 21.3, 17.5, 7.5, 21.3, 25.0, 22.5, 13.8, 17.5, 20.0,
           18.8, 13.8, 9.4, 9.4, 15.0, 13.8, 8.8, 9.4, 51.3, 51.3,
           46.3, 28.1, 23.8, 25.0, 34.4, 31.3, 34.4, 41.3, 42.5, 36.3,
           28.1, 32.5, 36.3, 28.66]
m10_mdi = [13.8, 15.6, 13.8, 18.8, 37.5, 28.1, 23.8, 37.5, 32.5, 28.1,
           31.3, 33.8, 34.4, 31.3, 25.0, 27.5, 25.0, 21.9, 13.8, 7.5,
           6.3, 9.4, 17.5, 15.6, 14.4, 13.1, 11.3, 9.4, 6.3, 9.4,
           20.0, 16.3, 9.4, 17.19]
m10_rsi = [50.0, 55.6, 50.0, 46.7, 41.1, 50.0, 55.6, 44.4, 50.0, 55.6,
           58.9, 52.2, 50.0, 47.8, 50.0, 50.0, 52.2, 41.1, 63.3, 72.2,
           74.4, 67.8, 61.1, 63.3, 67.8, 61.1, 63.3, 72.2, 74.4, 67.8,
           61.1, 63.3, 68.9, 59.76]

# ---------------- drawing ----------------
BLUE, RED, PURPLE, GREEN = "#0000ff", "#ff0000", "#800080", "#008000"
BBC, TEAL, VIOLET, ORANGE = "#404040", "#1f9e8c", "#e377ea", "#ffa500"


def fx(x):
    return x / W


def fy(y):
    return 1 - y / H


fig = go.Figure()
axes = {}
shapes = []
notes = []


def xaxis(key, left, right, rng, anchor, labels):
    axes[key] = dict(domain=[fx(left), fx(right)], range=rng, anchor=anchor,
                     tickvals=date_bars, ticktext=labels, ticks="outside", ticklen=3,
                     tickcolor="#000", ticklabelposition="outside right", tickangle=0,
                     tickfont=dict(size=7, color="#000", family=FONT),
                     showgrid=False, zeroline=False, showline=False, automargin=False,
                     rangeslider=dict(visible=False), fixedrange=True)


def yaxis(key, top, bottom, rng, anchor, vals, fmt):
    axes[key] = dict(domain=[fy(bottom), fy(top)], range=rng, anchor=anchor, side="right",
                     tickvals=vals, ticktext=[fmt.format(v) for v in vals],
                     ticks="outside", ticklen=3, tickcolor="#000",
                     tickfont=dict(size=6.6, color="#000", family=FONT),
                     showgrid=False, zeroline=False, showline=False, automargin=False,
                     fixedrange=True)


def rect(x0, y0, x1, y1, fill=None, line=None, lw=1, layer="below"):
    shapes.append(dict(type="rect", xref="paper", yref="paper",
                       x0=fx(x0), x1=fx(x1), y0=fy(y1), y1=fy(y0),
                       fillcolor=fill or "rgba(0,0,0,0)",
                       line=dict(color=line or "rgba(0,0,0,0)", width=lw if line else 0),
                       layer=layer))


def seg(x0, y0, x1, y1, color, lw=1):
    shapes.append(dict(type="line", xref="paper", yref="paper",
                       x0=fx(x0), y0=fy(y0), x1=fx(x1), y1=fy(y1),
                       line=dict(color=color, width=lw), layer="above"))


def text(x, y, s, size=7, color="#000"):
    notes.append(dict(x=fx(x), y=fy(y), xref="paper", yref="paper", text=s, showarrow=False,
                      xanchor="left", yanchor="middle", font=dict(size=size, color=color, family=FONT)))


def candles(xr, yr, o, h, l, c):
    fig.add_trace(go.Candlestick(
        x=bars, open=o, high=h, low=l, close=c, xaxis=xr, yaxis=yr, whiskerwidth=0,
        increasing=dict(line=dict(color=BLUE, width=0.8), fillcolor=BLUE),
        decreasing=dict(line=dict(color=RED, width=0.8), fillcolor=RED),
        showlegend=False, hoverinfo="none"))


def curve(xr, yr, xs, ys, color, width, dash="solid", smooth=True):
    fig.add_trace(go.Scatter(
        x=xs, y=ys, xaxis=xr, yaxis=yr, mode="lines",
        line=dict(color=color, width=width, dash=dash,
                  shape="spline" if smooth else "linear", smoothing=0.6),
        showlegend=False, hoverinfo="skip"))


def overlays(xr, yr, up, mid, low, green, purple, red, blue):
    curve(xr, yr, ma_bars, up, BBC, 0.9)
    curve(xr, yr, ma_bars, low, BBC, 0.9)
    curve(xr, yr, ma_bars, mid, "#555", 0.8, dash="4px,2px")
    curve(xr, yr, ma_bars, green, GREEN, 2)
    curve(xr, yr, ma_bars, purple, PURPLE, 2)
    curve(xr, yr, ma_bars, red, RED, 2)
    curve(xr, yr, ma_bars, blue, BLUE, 2)


def macd_panel(xr, yr, hist, line_, signal):
    cols = []
    for k, v in enumerate(hist):
        prev = hist[k - 1] if k else v
        cols.append(TEAL if v > 0 and v >= prev else VIOLET)
    fig.add_trace(go.Bar(x=hist_bars, y=hist, xaxis=xr, yaxis=yr, width=0.55,
                         marker=dict(color=cols, line=dict(width=0), opacity=0.75),
                         showlegend=False, hoverinfo="skip"))
    curve(xr, yr, ma_bars, signal, "#ff4040", 1)
    curve(xr, yr, ma_bars, line_, BLUE, 2)


def last_marker(xr, yr, top):
    fig.add_trace(go.Scatter(x=[132], y=[top], xaxis=xr, yaxis=yr, mode="markers",
                             marker=dict(symbol="triangle-down", size=6, color="#7a8896"),
                             cliponaxis=False, showlegend=False, hoverinfo="skip"))


# ---- windows ----
rect(0, 0, W, H, fill="#cfcfcf")
windows = [(0, 0, 510, 280, "USDJPY,Daily", False), (514, 0, 1024, 280, "USDJPY,H1", False),
           (0, 283, 510, 580, "USDJPY,H4", False), (514, 283, 1024, 580, "USDJPY,M10", True)]
for x0, y0, x1, y1, title, active in windows:
    rect(x0, y0, x1, y1, fill="#dde9f7" if active else "#f0f0f0",
         line="#8db4e2" if active else "#b9b9b9")
    rect(x0 + 1, y0 + 19, x1 - 1, y1 - 1, fill="white")
    ix = x0 + (6 if x0 == 0 else 8)
    rect(ix, y0 + 5.5, ix + 2.6, y0 + 13, line="#2fae3a", layer="above")
    rect(ix + 4.4, y0 + 5.5, ix + 7, y0 + 13, line="#2fae3a", layer="above")
    text(ix + 12, y0 + 9.5, title, size=8, color="#202020" if active else "#8e8e8e")
    cx = x0 + (440.7 if x0 == 0 else 443.7)
    cc = "#404040" if active else "#bdbdbd"
    seg(cx, y0 + 13, cx + 6, y0 + 13, cc)
    rect(cx + 26, y0 + 6.7, cx + 32, y0 + 13.3, line=cc, layer="above")
    seg(cx + 52, y0 + 6.7, cx + 58, y0 + 13.3, cc)
    seg(cx + 52, y0 + 13.3, cx + 58, y0 + 6.7, cc)

# ---- charts ----
charts = [
    dict(x="x", left=3.3, right=472, rng=[-0.24, 162.8], dates=d_dates, seps=d_seps,
         panels=[("y", 21, 262, [151.90, 162.175], d_yticks, "{:.3f}")],
         label=(21, 29.3, "USDJPY, Daily:  US Dollar vs Japanese Yen")),
    dict(x="x2", left=520.3, right=988.7, rng=[-0.13, 162.1], dates=h1_dates, seps=h1_seps,
         panels=[("y2", 21, 224, [159.681, 161.899], h1_yticks, "{:.3f}"),
                 ("y3", 226, 262.3, [-0.1623, 0.3446], h1_macd_ticks, "{:.4f}")],
         label=(538, 29.3, "USDJPY, H1:  US Dollar vs Japanese Yen")),
    dict(x="x3", left=3.3, right=471.7, rng=[-0.06, 162.1], dates=h4_dates, seps=h4_seps,
         panels=[("y4", 305, 525, [158.696, 161.929], h4_yticks, "{:.3f}"),
                 ("y5", 527.3, 566.7, [-0.179, 0.421], h4_macd_ticks, "{:.4f}")],
         label=(21, 312.7, "USDJPY, H4:  US Dollar vs Japanese Yen")),
    dict(x="x4", left=520.3, right=988.7, rng=[-0.17, 162.07], dates=m10_dates, seps=m10_seps,
         panels=[("y6", 305, 471, [161.105, 161.799], m10_yticks, "{:.3f}"),
                 ("y7", 473.3, 500, [-0.0453, 0.0808], m10_macd_ticks, "{:.4f}"),
                 ("y8", 502.3, 534.3, [1.25, 61.25], adx_ticks, "{:.2f}"),
                 ("y9", 536, 567.7, [-3.3, 102.2], rsi_ticks, "{:.2f}")],
         label=(538, 312.7, "USDJPY, M10:  US Dollar vs Japanese Yen")),
]

for ch in charts:
    xr = ch["x"]
    bottom_y = ch["panels"][-1][0]
    xaxis("xaxis" + xr[1:], ch["left"], ch["right"], ch["rng"], bottom_y, ch["dates"])
    for yr, top, bot, rng, vals, fmt in ch["panels"]:
        yaxis("yaxis" + yr[1:], top, bot, rng, xr, vals, fmt)
        rect(ch["left"], top, ch["right"], bot, line="#4a4a4a", layer="above")
        for s in ch["seps"]:
            shapes.append(dict(type="line", xref=xr, yref="paper", x0=s, x1=s,
                               y0=fy(bot), y1=fy(top),
                               line=dict(color="#000", width=1, dash="dot"), layer="below"))
    main_y = ch["panels"][0][0]
    # bid line and price tag
    shapes.append(dict(type="line", xref=xr + " domain", yref=main_y, x0=0, x1=1, y0=bid, y1=bid,
                       line=dict(color="#9aa6b2", width=1), layer="below"))
    notes.append(dict(x=fx(ch["right"] + 1.5), y=bid, xref="paper", yref=main_y, text="161.703",
                      showarrow=False, xanchor="left", yanchor="middle", bgcolor="#6f8092",
                      borderpad=1, font=dict(size=6.6, color="white", family=FONT)))
    lx, ly, lab = ch["label"]
    rect(lx - 14, ly - 3.2, lx - 4, ly + 3.2, fill="#f5b5b5", line="#d85858", layer="above")
    seg(lx - 10.5, ly - 3.2, lx - 10.5, ly + 3.2, "#5b7fd6")
    seg(lx - 14, ly, lx - 4, ly, "#ffffff")
    text(lx, ly, lab)

# Daily
candles("x", "y", d_open, d_high, d_low, d_close)
overlays("x", "y", d_bb_up, d_bb_mid, d_bb_low, d_green, d_purple, d_red, d_blue)
last_marker("x", "y", 162.05)

# H1
candles("x2", "y2", h1_open, h1_high, h1_low, h1_close)
overlays("x2", "y2", h1_bb_up, h1_bb_mid, h1_bb_low, h1_green, h1_purple, h1_red, h1_blue)
last_marker("x2", "y2", 161.87)
macd_panel("x2", "y3", h1_hist, h1_macd, h1_signal)
text(522.7, 232.7, "MACD( 12, 26, 9 ) 0.0000 0.0000 0.1350 0.1081 0.0269")

# H4
candles("x3", "y4", h4_open, h4_high, h4_low, h4_close)
overlays("x3", "y4", h4_bb_up, h4_bb_mid, h4_bb_low, h4_green, h4_purple, h4_red, h4_blue)
last_marker("x3", "y4", 161.89)
macd_panel("x3", "y5", h4_hist, h4_macd, h4_signal)
text(5.3, 534, "MACD( 12, 26, 9 ) 0.0000 0.0000 0.3231 0.2792 0.0439")

# M10
candles("x4", "y6", m10_open, m10_high, m10_low, m10_close)
overlays("x4", "y6", m10_bb_up, m10_bb_mid, m10_bb_low, m10_green, m10_purple, m10_red, m10_blue)
fig.add_trace(go.Scatter(x=bars, y=m10_sar, xaxis="x4", yaxis="y6", mode="markers",
                         marker=dict(color=ORANGE, size=3.6), showlegend=False, hoverinfo="skip"))
last_marker("x4", "y6", 161.79)
macd_panel("x4", "y7", m10_hist, m10_macd, m10_signal)
for lv in adx_levels:
    shapes.append(dict(type="line", xref="x4 domain", yref="y8", x0=0, x1=1, y0=lv, y1=lv,
                       line=dict(color="#ff4d4d", width=1, dash="dot"), layer="below"))
for lv in rsi_levels:
    shapes.append(dict(type="line", xref="x4 domain", yref="y9", x0=0, x1=1, y0=lv, y1=lv,
                       line=dict(color="#ff4d4d", width=1, dash="dot"), layer="below"))
curve("x4", "y8", ma_bars, m10_mdi, "#ff5a5a", 1, smooth=False)
curve("x4", "y8", ma_bars, m10_pdi, "#6a6aff", 1, smooth=False)
curve("x4", "y8", ma_bars, m10_adx, TEAL, 2)
curve("x4", "y9", ma_bars, m10_rsi, TEAL, 2, smooth=False)
text(522.7, 479.7, "MACD( 12, 26, 9 ) 0.0000 0.0000 0.0382 0.0374 0.0007")
text(522.7, 509.3, "ADX Wilder(8) 39.29 28.66 17.19")
text(522.7, 542.7, "RSI(14) 59.76")

fig.update_layout(
    width=W, height=H, margin=dict(l=0, r=0, t=0, b=0),
    template="none", paper_bgcolor="#f0f0f0", plot_bgcolor="white",
    showlegend=False, boxgap=0.45, shapes=shapes, annotations=notes,
    hovermode=False, **axes)

# the page's default body margin would push the 1024x580 figure off-screen
fig.write_html("out.html", config={"displayModeBar": False},
               post_script="document.body.style.margin='0';")
